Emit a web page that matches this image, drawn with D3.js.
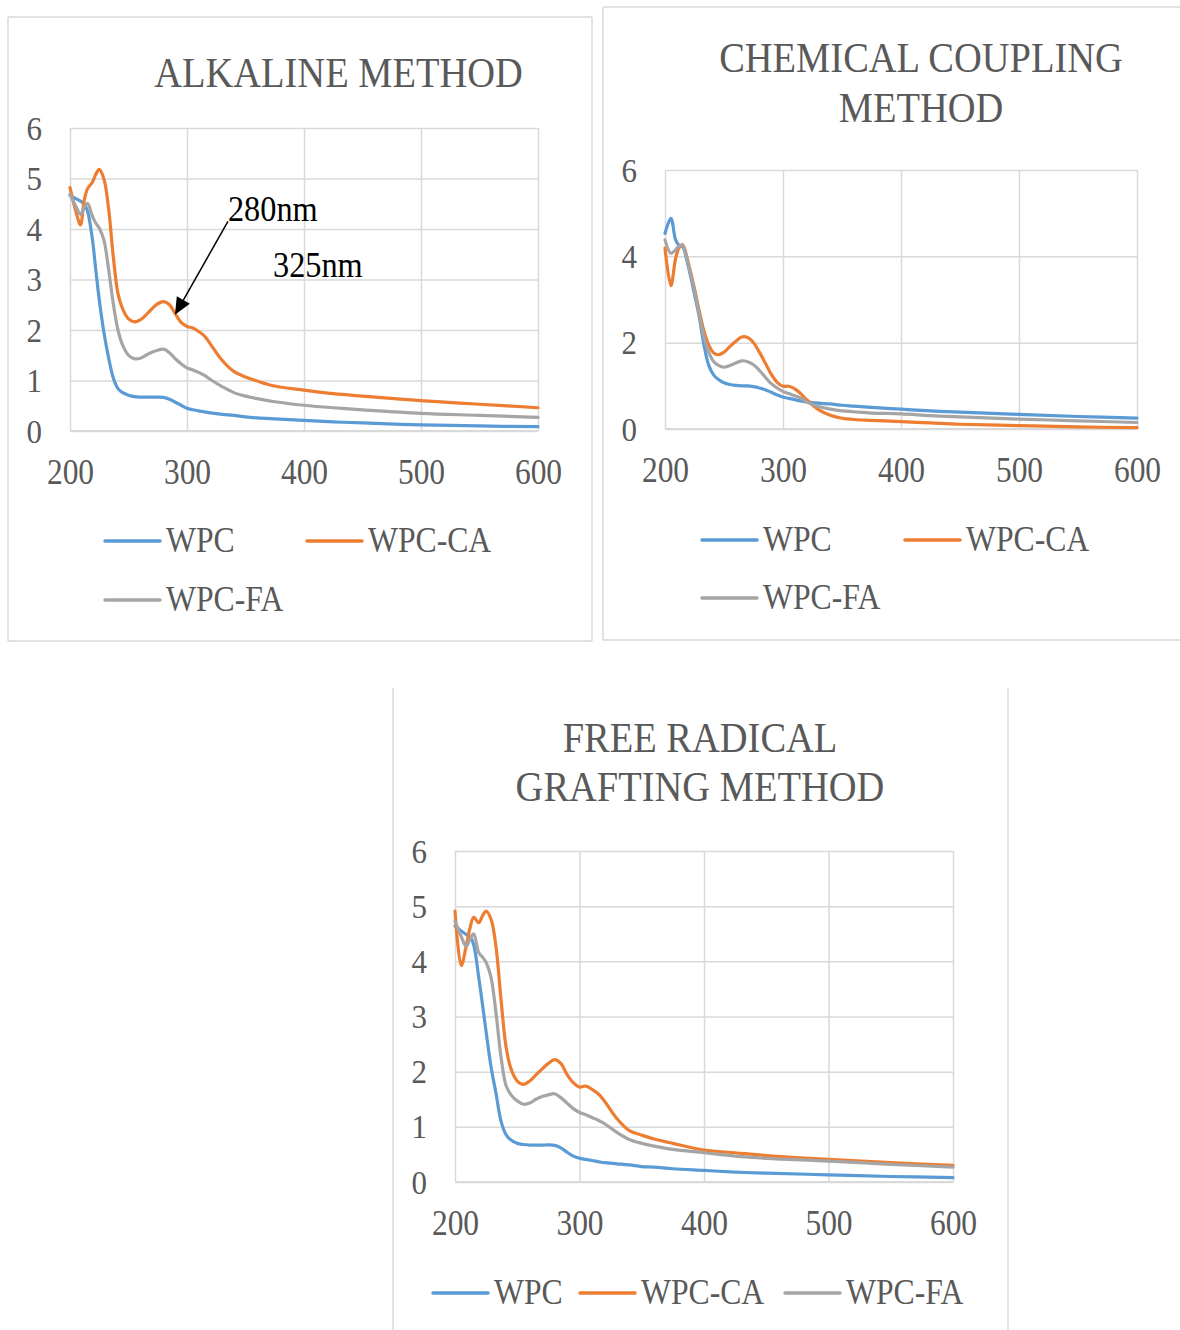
<!DOCTYPE html>
<html><head><meta charset="utf-8">
<script src="https://cdn.jsdelivr.net/npm/d3@7"></script>
<style>body{margin:0;background:#fff}svg{display:block}</style>
</head><body>
<svg id="c" width="1180" height="1330"></svg>
<script>
// ---------- DATA ----------
const wavelengths = [200,205,209,212,215,219,222,225,229,233,237,241,245,250,255,260,265,270,275,280,285,290,295,300,305,310,315,320,330,340,350,360,375,400,425,450,500,550,600];
const seriesNames = ["WPC","WPC-CA","WPC-FA"];
const xTicks = [200,300,400,500,600];
const yTicksFine = [0,1,2,3,4,5,6];
const yTicksCoarse = [0,2,4,6];

const alkalineWPC   = [4.66,4.60,4.55,4.50,4.35,3.82,3.20,2.60,1.95,1.45,1.05,0.84,0.76,0.71,0.68,0.67,0.67,0.67,0.672,0.665,0.63,0.57,0.51,0.45,0.42,0.40,0.38,0.36,0.33,0.31,0.28,0.26,0.24,0.21,0.18,0.16,0.12,0.10,0.085];
const alkalineWPCCA = [4.82,4.35,4.08,4.55,4.80,4.92,5.08,5.18,4.99,4.40,3.45,2.72,2.42,2.22,2.16,2.20,2.30,2.42,2.52,2.56,2.50,2.32,2.15,2.07,2.04,1.97,1.88,1.72,1.40,1.18,1.07,0.99,0.89,0.81,0.74,0.69,0.60,0.53,0.46];
const alkalineWPCFA = [4.69,4.45,4.29,4.42,4.51,4.26,4.12,4.02,3.78,3.20,2.52,2.00,1.70,1.50,1.43,1.44,1.50,1.56,1.60,1.62,1.55,1.43,1.33,1.25,1.21,1.16,1.10,1.02,0.88,0.76,0.69,0.64,0.58,0.51,0.46,0.42,0.35,0.31,0.27];

const couplingWPC   = [4.53,4.88,4.38,4.25,4.22,3.85,3.50,3.12,2.60,1.95,1.48,1.26,1.15,1.07,1.03,1.01,1.00,1.00,0.98,0.95,0.91,0.85,0.79,0.74,0.71,0.68,0.65,0.63,0.60,0.58,0.55,0.53,0.50,0.46,0.42,0.39,0.34,0.29,0.25];
const couplingWPCCA = [4.19,3.32,3.95,4.20,4.27,3.93,3.60,3.25,2.74,2.27,1.95,1.77,1.72,1.78,1.91,2.03,2.13,2.12,2.00,1.78,1.53,1.27,1.08,0.99,0.99,0.93,0.82,0.68,0.45,0.32,0.25,0.22,0.20,0.17,0.14,0.11,0.08,0.05,0.03];
const couplingWPCFA = [4.38,4.07,4.15,4.24,4.25,3.90,3.55,3.20,2.65,2.13,1.78,1.57,1.48,1.43,1.47,1.53,1.58,1.56,1.49,1.36,1.20,1.05,0.95,0.87,0.82,0.77,0.72,0.63,0.52,0.46,0.42,0.40,0.37,0.35,0.31,0.28,0.23,0.19,0.15];

const radicalWPC   = [4.64,4.55,4.49,4.45,4.30,3.72,3.23,2.72,2.08,1.60,1.10,0.86,0.76,0.70,0.68,0.67,0.67,0.67,0.672,0.665,0.62,0.54,0.47,0.43,0.41,0.39,0.37,0.35,0.33,0.31,0.28,0.27,0.24,0.21,0.18,0.16,0.13,0.10,0.08];
const radicalWPCCA = [4.91,3.92,4.28,4.60,4.80,4.70,4.82,4.91,4.76,4.25,3.30,2.45,2.05,1.83,1.77,1.83,1.94,2.05,2.15,2.22,2.15,1.95,1.80,1.72,1.74,1.68,1.60,1.47,1.15,0.93,0.85,0.78,0.70,0.58,0.53,0.48,0.41,0.35,0.30];
const radicalWPCFA = [4.73,4.45,4.27,4.40,4.50,4.16,4.08,3.98,3.70,3.05,2.26,1.75,1.58,1.47,1.41,1.43,1.50,1.55,1.58,1.60,1.53,1.43,1.33,1.26,1.22,1.17,1.12,1.06,0.90,0.77,0.70,0.65,0.59,0.53,0.47,0.43,0.38,0.32,0.27];

const annotationLabels = ["280nm","325nm"];

// ---------- STYLE / LAYOUT ----------
const colors = ["#5B9BD5","#ED7D31","#A5A5A5"];
const TEXT = "#595959", GRID = "#D9D9D9", FONT = "'Liberation Serif','Times New Roman',serif";
const SY = 1.12;

const charts = [
  { titles:["ALKALINE METHOD"], titleX:338.5, titleY:[87],
    box:{lines:[[8,17,592,17],[592,17,592,641],[592,641,8,641],[8,641,8,17]]},
    plot:{x0:70,x1:538,y0:128,y1:431}, yTicks:yTicksFine,
    series:[alkalineWPC,alkalineWPCCA,alkalineWPCFA],
    legend:[[105,541],[307,541],[105,600]], annotate:true },
  { titles:["CHEMICAL COUPLING","METHOD"], titleX:921, titleY:[72,122],
    box:{lines:[[603,7,1180,7],[603,640,1180,640],[603,7,603,640]]},
    plot:{x0:665,x1:1137,y0:170,y1:429}, yTicks:yTicksCoarse,
    series:[couplingWPC,couplingWPCCA,couplingWPCFA],
    legend:[[702,540],[905,540],[702,598]] },
  { titles:["FREE RADICAL","GRAFTING METHOD"], titleX:700, titleY:[752,801],
    box:{lines:[[393,688,393,1330],[1008,688,1008,1330]]},
    plot:{x0:455,x1:953,y0:851,y1:1182}, yTicks:yTicksFine,
    series:[radicalWPC,radicalWPCCA,radicalWPCFA],
    legend:[[433,1293],[580,1293],[785,1293]] }
];

const svg = d3.select("#c");

function txt(g, x, y, s, size, anchor, fill){
  return g.append("text")
    .attr("transform", `translate(${x},${y}) scale(1,${SY})`)
    .attr("text-anchor", anchor)
    .style("font-family", FONT).style("font-size", size+"px")
    .attr("fill", fill || TEXT).text(s);
}

charts.forEach(c => {
  const g = svg.append("g");
  c.box.lines.forEach(l => g.append("line").attr("x1",l[0]).attr("y1",l[1]).attr("x2",l[2]).attr("y2",l[3])
    .attr("stroke",GRID).attr("stroke-width",1.5));

  c.titles.forEach((t,i) => txt(g, c.titleX, c.titleY[i], t, 38.5, "middle"));

  const x = d3.scaleLinear().domain([200,600]).range([c.plot.x0,c.plot.x1]);
  const y = d3.scaleLinear().domain([0,6]).range([c.plot.y1,c.plot.y0]);
  const w = c.plot.x1 - c.plot.x0, h = c.plot.y1 - c.plot.y0;

  // horizontal gridlines + y labels
  const ya = g.append("g").attr("transform",`translate(${c.plot.x0},0)`)
    .call(d3.axisLeft(y).tickValues(c.yTicks).tickSize(-w).tickPadding(28).tickFormat(d3.format("d")));
  ya.select(".domain").remove();
  ya.selectAll(".tick line").attr("stroke",GRID).attr("stroke-width",1.5);
  ya.selectAll(".tick text").attr("x",null).attr("dy",null).attr("y",null)
    .attr("transform",`translate(-28,11) scale(1,${SY})`)
    .style("font-family",FONT).style("font-size","31px").attr("fill",TEXT);

  // vertical gridlines + x labels
  const xa = g.append("g").attr("transform",`translate(0,${c.plot.y1})`)
    .call(d3.axisBottom(x).tickValues(xTicks).tickSize(-h).tickFormat(d3.format("d")));
  xa.select(".domain").remove();
  xa.selectAll(".tick line").attr("stroke",GRID).attr("stroke-width",1.5);
  xa.selectAll(".tick text").attr("y",null).attr("dy",null)
    .attr("transform",`translate(0,53) scale(1,${SY})`)
    .style("font-family",FONT).style("font-size","31.5px").attr("fill",TEXT);

  // bottom axis line
  g.append("line").attr("x1",c.plot.x0).attr("x2",c.plot.x1).attr("y1",c.plot.y1).attr("y2",c.plot.y1)
    .attr("stroke",GRID).attr("stroke-width",1.8);

  const line = d3.line().x((d,i)=>x(wavelengths[i])).y(d=>y(d)).curve(d3.curveCatmullRom.alpha(0.5));
  c.series.forEach((s,k) => {
    g.append("path").datum(s).attr("d",line).attr("fill","none")
      .attr("stroke",colors[k]).attr("stroke-width",3.2)
      .attr("stroke-linejoin","round").attr("stroke-linecap","round");
  });

  // legend
  seriesNames.forEach((n,k) => {
    const [lx,ly] = c.legend[k];
    g.append("line").attr("x1",lx).attr("x2",lx+55).attr("y1",ly).attr("y2",ly)
      .attr("stroke",colors[k]).attr("stroke-width",3.5).attr("stroke-linecap","round");
    txt(g, lx+61, ly+11, n, 31.7, "start");
  });

  if (c.annotate) {
    // annotation texts and arrow pointing to the 280nm band on WPC-CA
    txt(g, x(335), y(4.16), annotationLabels[0], 32.3, "start", "#000");
    txt(g, x(373.5), y(3.05), annotationLabels[1], 32.3, "start", "#000");
    const sx = x(335), sy = y(4.15), ex = x(289.7), ey = y(2.3);
    const ang = Math.atan2(ey-sy, ex-sx), L = 17, W = 7.5;
    const bx = ex - L*Math.cos(ang), by = ey - L*Math.sin(ang);
    g.append("line").attr("x1",sx).attr("y1",sy).attr("x2",bx).attr("y2",by)
      .attr("stroke","#000").attr("stroke-width",1.5);
    const px = -Math.sin(ang), py = Math.cos(ang);
    g.append("path").attr("d",`M${ex},${ey}L${bx+W*px},${by+W*py}L${bx-W*px},${by-W*py}Z`).attr("fill","#000");
  }
});
</script>
</body></html>
